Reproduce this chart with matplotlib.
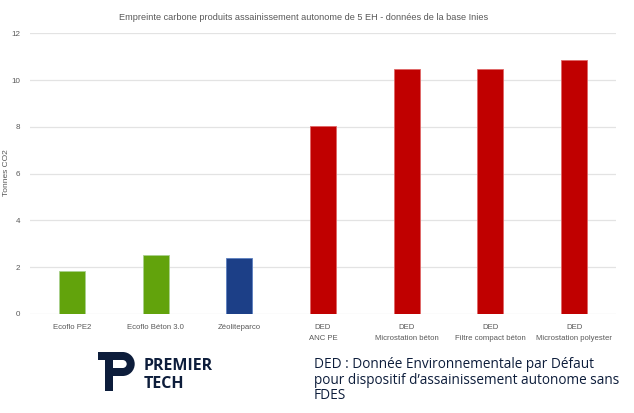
import matplotlib.pyplot as plt
from matplotlib.patches import Rectangle, Wedge

# Données (tonnes CO2)
categories = ['Ecoflo PE2', 'Ecoflo Béton 3.0', 'Zéoliteparco', 'DED\nANC PE',
              'DED\nMicrostation béton', 'DED\nFiltre compact béton', 'DED\nMicrostation polyester']
values = [1.83, 2.52, 2.38, 8.05, 10.46, 10.46, 10.87]
bar_colors = ['#62a30c', '#62a30c', '#1c3f87', '#c00000', '#c00000', '#c00000', '#c00000']
edge_colors = ['#a9d08e', '#a9d08e', '#5b7fc0', '#e06666', '#e06666', '#e06666', '#e06666']
y_ticks = [0, 2, 4, 6, 8, 10, 12]

title = 'Empreinte carbone produits assainissement autonome de 5 EH - données de la base Inies'
note = 'DED : Donnée Environnementale par Défaut\npour dispositif d\u2019assainissement autonome sans\nFDES'

narrow = ['Liberation Sans', 'DejaVu Sans']
grey = '#595959'
navy = '#0d1d3b'

fig = plt.figure(figsize=(6.34, 4.13), dpi=100)
ax = fig.add_axes([30 / 634, 99 / 413, 586 / 634, 280.7 / 413])

x = range(len(categories))
ax.bar(x, values, width=0.31, color=bar_colors, edgecolor=edge_colors, linewidth=0.6, zorder=3)
ax.set_xlim(-0.5, 6.5)
ax.set_ylim(0, 12)
ax.set_yticks(y_ticks)
ax.set_xticks(list(x))
ax.set_xticklabels(categories, family=narrow, fontsize=5.6, color=grey, linespacing=1.8)
ax.set_yticklabels([str(v) for v in y_ticks], family=narrow, fontsize=5.8, color=grey)
ax.tick_params(length=0, pad=7)
ax.tick_params(axis='y', pad=7.2)
ax.grid(axis='y', color='#e3e3e3', linewidth=0.9, zorder=0)
for s in ax.spines.values():
    s.set_visible(False)

fig.text(6.5 / 634, 1 - 173 / 413, 'Tonnes CO2', rotation=90, ha='center', va='center',
         family=narrow, fontsize=6, color=grey)
fig.text(304 / 634, 1 - 18 / 413, title, ha='center', va='center',
         family=narrow, fontsize=6.6, color=grey)

# Logo (P + texte) dessiné en coordonnées pixel
ov = fig.add_axes([0, 0, 1, 1])
ov.set_xlim(0, 634)
ov.set_ylim(413, 0)
ov.set_aspect('equal')
ov.axis('off')
ov.add_patch(Rectangle((98, 352), 24.7, 8, color=navy, lw=0))
ov.add_patch(Rectangle((105, 352), 8, 39, color=navy, lw=0))
ov.add_patch(Rectangle((105, 368), 17.7, 8, color=navy, lw=0))
ov.add_patch(Wedge((122.7, 364), 12, -90, 90, width=8, color=navy, lw=0))
ov.text(144, 366.5, 'PREMIER', family=['Open Sans', 'DejaVu Sans'], fontweight='bold',
        fontsize=11.5, color=navy, va='center', ha='left')
ov.text(144, 383.5, 'TECH', family=['Open Sans', 'DejaVu Sans'], fontweight='bold',
        fontsize=11.5, color=navy, va='center', ha='left')

ov.text(314, 380, note, family=['Open Sans', 'DejaVu Sans'], fontsize=9.8, color=navy,
        va='center', ha='left', linespacing=1.05)

fig.savefig('out.png', dpi=100, facecolor='white')
